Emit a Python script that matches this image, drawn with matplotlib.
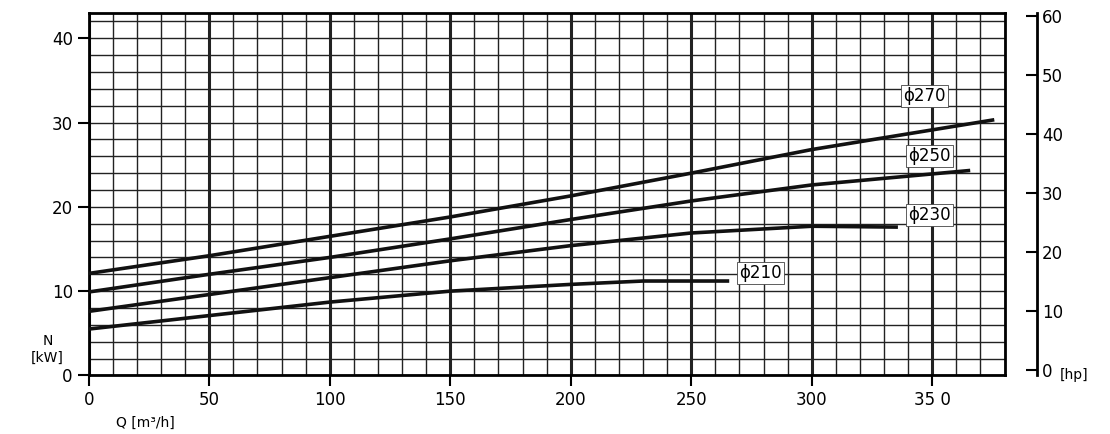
import matplotlib.pyplot as plt
import numpy as np

q270 = [0, 50, 100, 150, 200, 250, 300, 375]
n270 = [12.1, 14.2, 16.5, 18.8, 21.3, 24.0, 26.8, 30.3]
q250 = [0, 50, 100, 150, 200, 250, 300, 365]
n250 = [9.9, 12.0, 14.0, 16.2, 18.5, 20.7, 22.6, 24.3]
q230 = [0, 50, 100, 150, 200, 250, 300, 335]
n230 = [7.6, 9.6, 11.6, 13.6, 15.4, 16.9, 17.7, 17.6]
q210 = [0, 50, 100, 150, 200, 230, 265]
n210 = [5.5, 7.1, 8.7, 10.0, 10.8, 11.2, 11.2]
labels = ['ϕ270', 'ϕ250', 'ϕ230', 'ϕ210']
label_pos = [(338, 33.2), (340, 26.0), (340, 19.0), (270, 12.2)]

fig = plt.figure(figsize=(11.1, 4.34), dpi=100)
ax = fig.add_axes([0.08, 0.135, 0.825, 0.835])
ax.set_xlim(0, 380)
ax.set_ylim(0, 43)

for v in np.arange(0, 381, 10):
    ax.axvline(v, color='#222', lw=2.2 if v % 50 == 0 else 1.0, zorder=1)
for v in np.arange(0, 44, 2):
    ax.axhline(v, color='#222', lw=1.0, zorder=1)

curves = [(q270, n270), (q250, n250), (q230, n230), (q210, n210)]
for (q, n), lab, (lx, ly) in zip(curves, labels, label_pos):
    ax.plot(q, n, color='#111', lw=2.6, zorder=3)
    ax.text(lx, ly, lab, fontsize=12, va='center', ha='left', zorder=4,
            bbox=dict(facecolor='white', edgecolor='#444', lw=0.6, pad=1.5))

ax.set_xticks([0, 50, 100, 150, 200, 250, 300, 350])
ax.set_xticklabels(['0', '50', '100', '150', '200', '250', '300', '35 0'])
ax.set_yticks([0, 10, 20, 30, 40])
ax.tick_params(labelsize=12, direction='out', length=8, width=1.5)
for s in ax.spines.values():
    s.set_linewidth(2)
ax.text(-0.045, 0.03, 'N\n[kW]', transform=ax.transAxes, fontsize=10, ha='center', va='bottom')
ax.text(0.03, -0.13, 'Q [m³/h]', transform=ax.transAxes, fontsize=10, ha='left', va='center')

ax2 = ax.twinx()
ax2.set_ylim(-0.9, 60.5)
ax2.spines['right'].set_position(('axes', 1.035))
ax2.spines['right'].set_linewidth(2)
for s in ['top', 'left', 'bottom']:
    ax2.spines[s].set_visible(False)
ax2.set_yticks([0, 10, 20, 30, 40, 50, 60])
ax2.tick_params(labelsize=12, direction='in', length=8, width=1.5, pad=4)
ax2.text(1.06, 0.0, '[hp]', transform=ax.transAxes, fontsize=10, ha='left', va='center')

fig.savefig('out.png')
